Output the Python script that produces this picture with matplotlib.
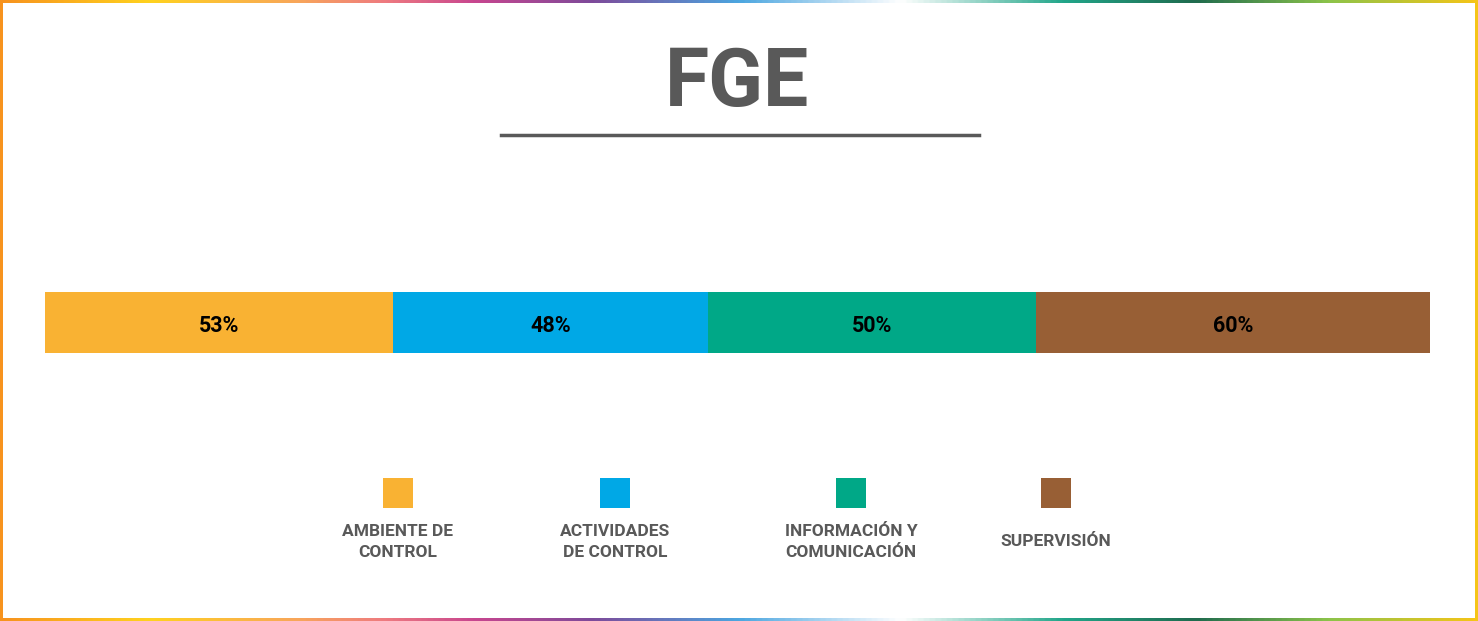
import matplotlib.pyplot as plt
import numpy as np
from matplotlib.colors import LinearSegmentedColormap
from matplotlib.patches import Rectangle

plt.rcParams['font.family'] = ['Roboto', 'DejaVu Sans']

title = "FGE"
categories = ["AMBIENTE DE\nCONTROL", "ACTIVIDADES\nDE CONTROL", "INFORMACIÓN Y\nCOMUNICACIÓN", "SUPERVISIÓN"]
values = [53, 48, 50, 60]
colors = ["#F9B233", "#00A8E6", "#00A887", "#985F35"]
gray = "#595959"

W, H = 1478, 621
fig = plt.figure(figsize=(W / 100, H / 100), dpi=100)

# gradient frame
bg = fig.add_axes([0, 0, 1, 1])
bg.set_xlim(0, W)
bg.set_ylim(H, 0)
bg.axis("off")
frame_cmap = LinearSegmentedColormap.from_list("frame", [
    (0.0, "#F7931E"), (0.1, "#FFD21F"), (0.2, "#F8A65A"), (0.26, "#EE7A80"),
    (0.32, "#C8468F"), (0.4, "#7E4A9A"), (0.5, "#4BA6E0"), (0.61, "#FFFFFF"),
    (0.72, "#22A68A"), (0.81, "#1F6B4E"), (0.9, "#8BC34A"), (1.0, "#F5C518")])
grad = np.linspace(0, 1, 512).reshape(1, -1)
bg.imshow(grad, cmap=frame_cmap, aspect="auto", extent=[0, W, H, 0], zorder=0)
bg.add_patch(Rectangle((3, 3), W - 6, H - 6, facecolor="white", edgecolor="none", zorder=1))

# title + rule
bg.text(737, 84, title, ha="center", va="center", fontsize=58, fontweight="bold",
        color=gray, zorder=2)
bg.plot([501, 979], [135, 135], color=gray, lw=2.5, zorder=2)

# stacked bar
ax = fig.add_axes([45 / W, (H - 353) / H, 1385 / W, 61 / H])
left = 0
for v, c in zip(values, colors):
    ax.barh(0, v, left=left, height=1, color=c, edgecolor="none")
    ax.text(left + v / 2, -0.05, f"{v}%", ha="center", va="center", fontsize=15.5,
            fontweight="bold", color="black")
    left += v
ax.set_xlim(0, sum(values))
ax.set_ylim(-0.5, 0.5)
ax.axis("off")

# legend
leg_x = [398, 615, 851, 1056]
for x, lab, c in zip(leg_x, categories, colors):
    bg.add_patch(Rectangle((x - 15, 478), 30, 30, facecolor=c, edgecolor="none", zorder=2))
    bg.text(x, 542, lab, ha="center", va="center", fontsize=12.5, fontweight="bold",
            color=gray, linespacing=1.55, zorder=2)

fig.savefig("out.png", dpi=100)
